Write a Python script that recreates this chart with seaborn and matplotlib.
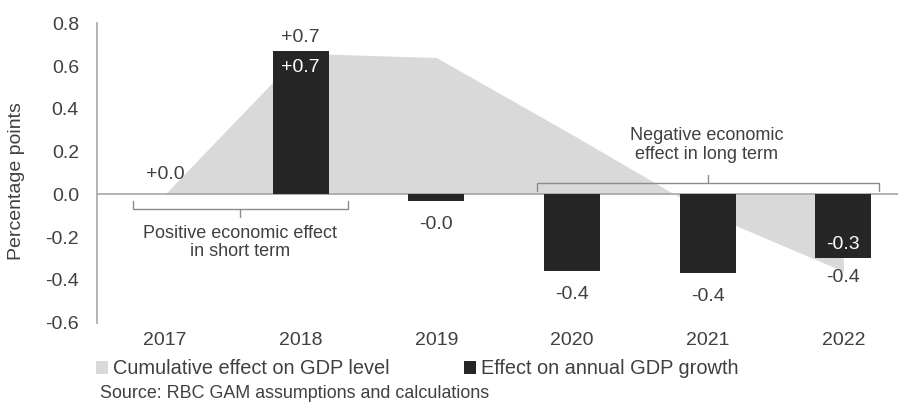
import numpy as np
import pandas as pd
import matplotlib
matplotlib.use("Agg")
import matplotlib.pyplot as plt
import seaborn as sns
from matplotlib.patches import Patch

# ---- data -------------------------------------------------------------
years = ["2017", "2018", "2019", "2020", "2021", "2022"]
annual_growth_effect = [0.00, 0.67, -0.03, -0.36, -0.37, -0.30]
cumulative_level_effect = [0.00, 0.66, 0.64, 0.28, -0.09, -0.36]
y_ticks = [-0.6, -0.4, -0.2, 0.0, 0.2, 0.4, 0.6, 0.8]

series_names = ["Cumulative effect on GDP level", "Effect on annual GDP growth"]
y_label = "Percentage points"
source_note = "Source: RBC GAM assumptions and calculations"
short_term_note = "Positive economic effect\nin short term"
long_term_note = "Negative economic\neffect in long term"

# ---- style ------------------------------------------------------------
sns.set_theme(style="white")
plt.rcParams["font.family"] = ["Liberation Sans", "DejaVu Sans"]
plt.rcParams["axes.unicode_minus"] = False

TEXT = "#404040"
BAR = "#262626"
AREA = "#d9d9d9"
AXIS = "#a6a6a6"
BRACKET = "#8c8c8c"

W, H = 899, 404
fig = plt.figure(figsize=(W / 100, H / 100), dpi=100)
left_px, right_px, top_px, bottom_px = 97, 898, 23.3, 322.6
step_px = 135.7  # width of one year slot
ax = fig.add_axes([left_px / W, 1 - bottom_px / H,
                   (right_px - left_px) / W, (bottom_px - top_px) / H])

df = pd.DataFrame({"year": years, "growth": annual_growth_effect})
x = np.arange(len(years))

# cumulative level effect as a shaded area behind the bars
ax.fill_between(x, 0, cumulative_level_effect, color=AREA, lw=0, zorder=1)
ax.axhline(0, color=AXIS, lw=1.2, zorder=2)

sns.barplot(data=df, x="year", y="growth", color=BAR, width=0.413,
            saturation=1, linewidth=0, ax=ax, zorder=3)

ax.set_xlim(-0.5, -0.5 + (right_px - left_px) / step_px)
ax.set_ylim(-0.6, 0.8)
ax.set_yticks(y_ticks)
ax.set_yticklabels([f"{v:.1f}" for v in y_ticks])
ax.set_xlabel("")
ax.set_ylabel("")
ax.tick_params(axis="y", length=0, pad=13, labelsize=14, labelcolor=TEXT)
ax.tick_params(axis="x", length=0, pad=7, labelsize=14, labelcolor=TEXT)
for side in ("top", "right", "bottom"):
    ax.spines[side].set_visible(False)
ax.spines["left"].set_color(AXIS)
ax.spines["left"].set_linewidth(1.2)

fig.text(17 / W, 1 - 181 / H, y_label, rotation=90, ha="center", va="center",
         fontsize=14, color=TEXT)


def fmt(v):
    return f"{v:+.1f}"


# value labels for the annual growth bars
inside_labels = {"2018", "2022"}
for i, (yr, v) in enumerate(zip(years, annual_growth_effect)):
    if yr in inside_labels:
        off = -16 if v > 0 else 14
        col = "white"
    else:
        off = 20 if v >= 0 else -23.5
        col = TEXT
    ax.annotate(fmt(v), xy=(i, v), xytext=(0, off), textcoords="offset pixels",
                ha="center", va="center", fontsize=14, color=col, zorder=5)

# value labels for the cumulative area
area_label_offsets = {"2018": 15.5, "2022": -6}
for i, (yr, v) in enumerate(zip(years, cumulative_level_effect)):
    if yr in area_label_offsets:
        ax.annotate(fmt(v), xy=(i, v), xytext=(0, area_label_offsets[yr]),
                    textcoords="offset pixels", ha="center", va="center",
                    fontsize=14, color=TEXT, zorder=5)

# bracket under the short-term years
bx0, bx1, bmid = -0.235, 1.35, 0.554
ax.plot([bx0, bx0, bx1, bx1], [-0.032, -0.069, -0.069, -0.032],
        color=BRACKET, lw=1, clip_on=False, zorder=4)
ax.plot([bmid, bmid], [-0.069, -0.106], color=BRACKET, lw=1, zorder=4)
ax.text(bmid, -0.225, short_term_note, ha="center", va="center",
        fontsize=13, color=TEXT, linespacing=1.1, zorder=5)

# bracket over the long-term years
nx0, nx1, nmid = 2.742, 5.263, 4.0
ax.plot([nx0, nx0, nx1, nx1], [0.015, 0.053, 0.053, 0.015],
        color=BRACKET, lw=1, clip_on=False, zorder=4)
ax.plot([nmid, nmid], [0.053, 0.090], color=BRACKET, lw=1, zorder=4)
ax.text(3.995, 0.231, long_term_note, ha="center", va="center",
        fontsize=13, color=TEXT, linespacing=1.1, zorder=5)

handles = [Patch(facecolor=AREA, edgecolor="none"), Patch(facecolor=BAR, edgecolor="none")]
fig.legend(handles=handles, labels=series_names, loc="center left",
           bbox_to_anchor=(96 / W, 1 - 369 / H), ncol=2, frameon=False,
           fontsize=14.4, handlelength=0.6, handleheight=0.6,
           handletextpad=0.25, columnspacing=3.7, borderpad=0,
           borderaxespad=0, labelcolor=TEXT)

fig.text(100 / W, 1 - 393 / H, source_note, ha="left", va="center",
         fontsize=12.9, color=TEXT)

fig.savefig("out.png", dpi=100)
